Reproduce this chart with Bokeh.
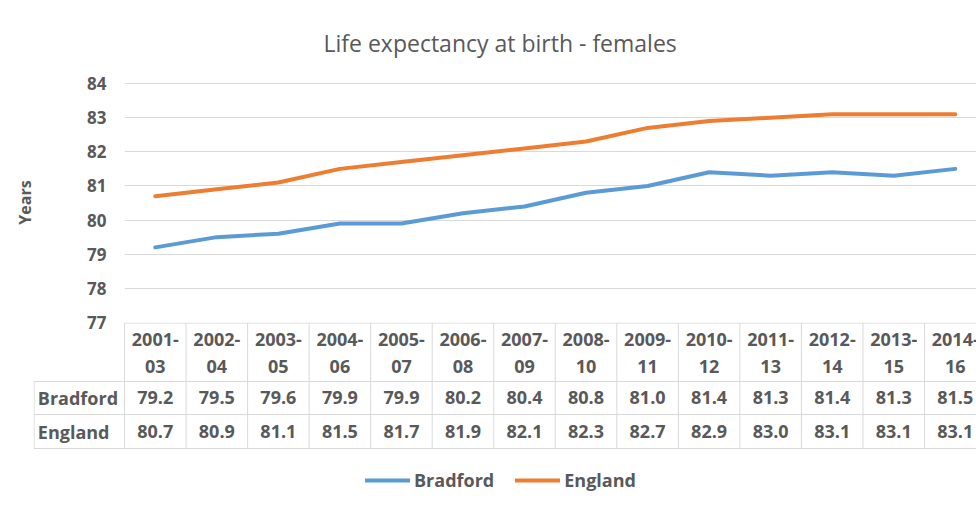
from bokeh.plotting import figure
from bokeh.models import Range1d, FixedTicker, Legend, LegendItem, Title
from bokeh.embed import file_html
from bokeh.resources import INLINE
from bokeh.core.properties import value

# ---- data ----
periods = ["2001-03", "2002-04", "2003-05", "2004-06", "2005-07", "2006-08", "2007-09",
           "2008-10", "2009-11", "2010-12", "2011-13", "2012-14", "2013-15", "2014-16"]
bradford = [79.2, 79.5, 79.6, 79.9, 79.9, 80.2, 80.4, 80.8, 81.0, 81.4, 81.3, 81.4, 81.3, 81.5]
england = [80.7, 80.9, 81.1, 81.5, 81.7, 81.9, 82.1, 82.3, 82.7, 82.9, 83.0, 83.1, 83.1, 83.1]
y_ticks = [77, 78, 79, 80, 81, 82, 83, 84]
series_names = ["Bradford", "England"]
title_text = "Life expectancy at birth - females"
y_label = "Years"

# ---- style ----
FONT = "Open Sans"
GREY = "#595959"
GRID = "#d9d9d9"
BLUE = "#5B9BD5"
ORANGE = "#ED7D31"
colors = [BLUE, ORANGE]

n = len(periods)
xs = list(range(n))
X_END = 13.345
OVERLAP = 8

# ---- chart ----
pA = figure(width=976, height=322 + OVERLAP, x_range=Range1d(-0.5, X_END), y_range=Range1d(77, 84.03),
            output_backend="svg", toolbar_location=None, x_axis_location=None,
            min_border_left=124, min_border_right=0, min_border_top=82, min_border_bottom=OVERLAP)
pA.outline_line_color = None
pA.xgrid.visible = False
pA.ygrid.ticker = FixedTicker(ticks=y_ticks[1:])
pA.ygrid.grid_line_color = GRID
pA.ygrid.grid_line_width = 1

yax = pA.yaxis[0]
yax.ticker = FixedTicker(ticks=y_ticks)
yax.axis_line_color = None
yax.major_tick_line_color = None
yax.minor_tick_line_color = None
yax.major_tick_out = 0
yax.major_tick_in = 0
yax.major_label_standoff = 18
yax.major_label_text_font = FONT
yax.major_label_text_font_size = "17px"
yax.major_label_text_font_style = "bold"
yax.major_label_text_color = GREY
yax.axis_label = y_label
yax.axis_label_text_font = FONT
yax.axis_label_text_font_size = "16px"
yax.axis_label_text_font_style = "bold"
yax.axis_label_text_color = GREY
yax.axis_label_standoff = 48

pA.title = Title(text=title_text, align="left", offset=199, standoff=48,
                 text_font=FONT, text_font_size="23px", text_font_style="normal",
                 text_color=GREY)

for vals, col in zip([bradford, england], colors):
    pA.line(xs, vals, line_color=col, line_width=4, line_cap="round", line_join="round")

# ---- data table + legend ----
X_LEFT = -1.979
pB = figure(width=976, height=184, x_range=Range1d(X_LEFT, X_END), y_range=Range1d(-184, 0),
            output_backend="svg", toolbar_location=None, x_axis_location=None, y_axis_location=None,
            min_border_left=33, min_border_right=0, min_border_top=0, min_border_bottom=0)
pB.outline_line_color = None
pB.grid.visible = False
pB.border_fill_alpha = 0
pB.background_fill_alpha = 0
pB.styles = {"margin-top": f"-{OVERLAP}px"}

ROW_TOP, HEAD_BOT, ROW1_BOT, ROW2_BOT = -0.5, -59, -92, -126
vx = [i - 0.5 for i in range(n + 1)]
pB.segment(x0=vx, y0=[ROW_TOP] * len(vx), x1=vx, y1=[ROW2_BOT] * len(vx), line_color=GRID, line_width=1)
pB.segment(x0=[X_LEFT + 0.01], y0=[HEAD_BOT], x1=[X_LEFT + 0.01], y1=[ROW2_BOT], line_color=GRID, line_width=1)
pB.segment(x0=[-0.5, X_LEFT, X_LEFT, X_LEFT], y0=[ROW_TOP, HEAD_BOT, ROW1_BOT, ROW2_BOT],
           x1=[n, n, n, n], y1=[ROW_TOP, HEAD_BOT, ROW1_BOT, ROW2_BOT], line_color=GRID, line_width=1)

head_top = [p.split("-")[0] + "-" for p in periods]
head_bot = [p.split("-")[1] for p in periods]
txt = dict(text_font=value(FONT), text_font_size="18px", text_font_style="bold",
           text_color=GREY, text_align="center", text_baseline="middle")
pB.text(x=xs, y=[-17] * n, text=head_top, **txt)
pB.text(x=xs, y=[-44] * n, text=head_bot, **txt)
pB.text(x=xs, y=[-75] * n, text=[f"{v:.1f}" for v in bradford], **txt)
pB.text(x=xs, y=[-109] * n, text=[f"{v:.1f}" for v in england], **txt)
txt_l = dict(txt)
txt_l["text_align"] = "left"
pB.text(x=[X_LEFT + 0.07] * 2, y=[-75, -109], text=series_names, **txt_l)

# legend: series lines drawn in this panel fall outside its (table) y-range, so only the legend shows
items = []
for name, vals, col in zip(series_names, [bradford, england], colors):
    r = pB.line(x=xs, y=vals, line_color=col, line_width=4, line_cap="round")
    items.append(LegendItem(label=name, renderers=[r]))
legend = Legend(items=items, orientation="horizontal", location=(332, 14),
                margin=0, padding=0, spacing=21, glyph_width=45, glyph_height=20,
                label_standoff=4, label_text_font=FONT, label_text_font_size="18px",
                label_text_font_style="bold", label_text_color=GREY,
                border_line_color=None, background_fill_alpha=0)
pB.add_layout(legend)

open("out.html", "w").write(file_html([pA, pB], INLINE))
